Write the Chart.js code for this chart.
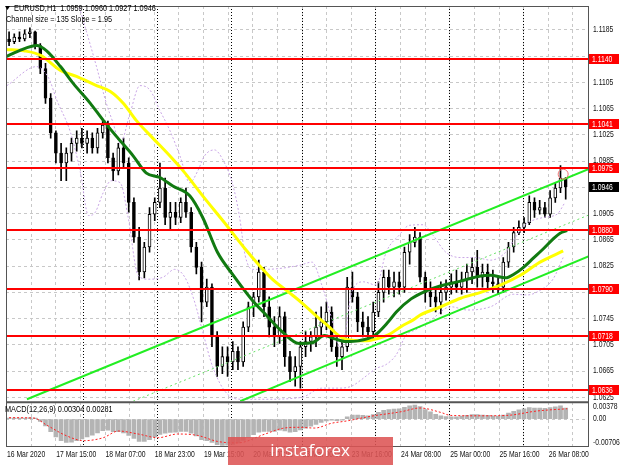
<!DOCTYPE html>
<html lang="en">
<head>
<meta charset="UTF-8">
<title>EURUSD H1</title>
<script src="https://cdn.jsdelivr.net/npm/chart.js"></script>
<style>
    body { margin: 0; padding: 0; background: #fff; }
    .chart-box { width: 620px; height: 465px; position: relative; }
</style>
</head>
<body>
<div class="chart-box"><canvas id="eurusd"></canvas></div>
<script>
// candles, one every ~1.7 h (hour 0 = first bar on screen)
const FIRST_BAR = 1.0;
const BAR_STEP = 1.69;

const opens = [
    1.1171, 1.1167, 1.1174, 1.1171, 1.1179, 1.1182, 1.1161, 1.1126, 1.1081, 1.1028,
    1.0997, 1.0982, 1.0997, 1.1012, 1.1020, 1.1012, 1.1020, 1.1005, 1.1028, 1.1040,
    1.0990, 1.0970, 1.1005, 1.0982, 1.0922, 1.0869, 1.0816, 1.0854, 1.0904, 1.0922,
    1.0944, 1.0899, 1.0907, 1.0899, 1.0922, 1.0907, 1.0854, 1.0823, 1.0770, 1.0793,
    1.0717, 1.0672, 1.0687, 1.0679, 1.0695, 1.0679, 1.0732, 1.0763, 1.0778, 1.0816,
    1.0763, 1.0732, 1.0717, 1.0748, 1.0687, 1.0664, 1.0672, 1.0702, 1.0710, 1.0717,
    1.0732, 1.0740, 1.0755, 1.0702, 1.0687, 1.0702, 1.0793, 1.0778, 1.0740, 1.0732,
    1.0725, 1.0755, 1.0785, 1.0808, 1.0793, 1.0801, 1.0793, 1.0846, 1.0861, 1.0869,
    1.0808, 1.0785, 1.0778, 1.0770, 1.0785, 1.0793, 1.0801, 1.0793, 1.0804, 1.0816,
    1.0823, 1.0808, 1.0816, 1.0801, 1.0798, 1.0793, 1.0831, 1.0854, 1.0876, 1.0884,
    1.0891, 1.0922, 1.0910, 1.0914, 1.0904, 1.0929, 1.0944, 1.0959
];
const highs = [
    1.1182, 1.1179, 1.1182, 1.1185, 1.1188, 1.1183, 1.1164, 1.1134, 1.1088, 1.1031,
    1.1012, 1.1005, 1.1020, 1.1031, 1.1035, 1.1031, 1.1028, 1.1035, 1.1046, 1.1046,
    1.0997, 1.1012, 1.1020, 1.0990, 1.0929, 1.0884, 1.0861, 1.0914, 1.0929, 1.0982,
    1.0959, 1.0922, 1.0922, 1.0929, 1.0944, 1.0914, 1.0861, 1.0831, 1.0805, 1.0798,
    1.0725, 1.0702, 1.0702, 1.0710, 1.0702, 1.0740, 1.0770, 1.0785, 1.0834, 1.0823,
    1.0778, 1.0748, 1.0763, 1.0755, 1.0695, 1.0687, 1.0710, 1.0725, 1.0725, 1.0755,
    1.0763, 1.0770, 1.0763, 1.0717, 1.0710, 1.0808, 1.0816, 1.0785, 1.0755, 1.0748,
    1.0770, 1.0801, 1.0819, 1.0819, 1.0816, 1.0816, 1.0854, 1.0873, 1.0884, 1.0876,
    1.0816, 1.0801, 1.0793, 1.0801, 1.0804, 1.0813, 1.0819, 1.0816, 1.0828, 1.0838,
    1.0849, 1.0828, 1.0828, 1.0819, 1.0808, 1.0838, 1.0861, 1.0884, 1.0894, 1.0899,
    1.0932, 1.0929, 1.0925, 1.0922, 1.0940, 1.0952, 1.0978, 1.0960
];
const lows = [
    1.1161, 1.1164, 1.1167, 1.1168, 1.1173, 1.1156, 1.1118, 1.1073, 1.1020, 1.0982,
    1.0955, 1.0955, 1.0985, 1.1000, 1.1005, 1.0997, 1.0997, 1.0997, 1.1020, 1.0982,
    1.0955, 1.0964, 1.0975, 1.0907, 1.0861, 1.0804, 1.0807, 1.0846, 1.0894, 1.0914,
    1.0888, 1.0879, 1.0888, 1.0891, 1.0899, 1.0846, 1.0813, 1.0740, 1.0763, 1.0702,
    1.0657, 1.0661, 1.0657, 1.0667, 1.0667, 1.0672, 1.0725, 1.0748, 1.0770, 1.0748,
    1.0717, 1.0702, 1.0707, 1.0672, 1.0649, 1.0642, 1.0639, 1.0687, 1.0695, 1.0702,
    1.0717, 1.0728, 1.0695, 1.0672, 1.0667, 1.0695, 1.0770, 1.0725, 1.0717, 1.0713,
    1.0713, 1.0748, 1.0770, 1.0782, 1.0778, 1.0782, 1.0785, 1.0828, 1.0854, 1.0801,
    1.0770, 1.0763, 1.0755, 1.0752, 1.0773, 1.0782, 1.0785, 1.0782, 1.0785, 1.0798,
    1.0793, 1.0793, 1.0789, 1.0785, 1.0782, 1.0785, 1.0823, 1.0846, 1.0873, 1.0876,
    1.0888, 1.0899, 1.0904, 1.0899, 1.0899, 1.0922, 1.0937, 1.0927
];
const closes = [
    1.1167, 1.1174, 1.1171, 1.1179, 1.1182, 1.1161, 1.1126, 1.1081, 1.1028, 1.0997,
    1.0982, 1.0997, 1.1012, 1.1020, 1.1012, 1.1020, 1.1005, 1.1028, 1.1040, 1.0990,
    1.0970, 1.1005, 1.0982, 1.0922, 1.0869, 1.0816, 1.0854, 1.0904, 1.0922, 1.0944,
    1.0899, 1.0907, 1.0899, 1.0922, 1.0907, 1.0854, 1.0823, 1.0770, 1.0793, 1.0717,
    1.0672, 1.0687, 1.0679, 1.0695, 1.0679, 1.0732, 1.0763, 1.0778, 1.0816, 1.0763,
    1.0732, 1.0717, 1.0748, 1.0687, 1.0664, 1.0672, 1.0702, 1.0710, 1.0717, 1.0732,
    1.0740, 1.0755, 1.0702, 1.0687, 1.0702, 1.0793, 1.0778, 1.0740, 1.0732, 1.0725,
    1.0755, 1.0785, 1.0808, 1.0793, 1.0801, 1.0793, 1.0846, 1.0861, 1.0869, 1.0808,
    1.0785, 1.0778, 1.0770, 1.0785, 1.0793, 1.0801, 1.0793, 1.0804, 1.0816, 1.0823,
    1.0808, 1.0816, 1.0801, 1.0798, 1.0793, 1.0831, 1.0854, 1.0876, 1.0884, 1.0891,
    1.0922, 1.0910, 1.0914, 1.0904, 1.0929, 1.0944, 1.0959, 1.0946
];

// MACD histogram, one value per candle
const macdHist = [
    0.0003, 0.0003, 0.0003, 0.0003, 0.0004, 0.0003, -0.0006, -0.0018, -0.0034, -0.0048,
    -0.0058, -0.0063, -0.0062, -0.0058, -0.0053, -0.0048, -0.0043, -0.0037, -0.0031, -0.0030,
    -0.0034, -0.0034, -0.0037, -0.0044, -0.0052, -0.0060, -0.0060, -0.0055, -0.0048, -0.0041,
    -0.0038, -0.0036, -0.0035, -0.0033, -0.0033, -0.0038, -0.0045, -0.0055, -0.0058, -0.0063,
    -0.0069, -0.0071, -0.0070, -0.0068, -0.0064, -0.0057, -0.0049, -0.0042, -0.0035, -0.0033,
    -0.0033, -0.0033, -0.0030, -0.0032, -0.0035, -0.0034, -0.0029, -0.0024, -0.0019, -0.0014,
    -0.0009, -0.0005, -0.0003, -0.0004, -0.0003, 0.0006, 0.0011, 0.0011, 0.0010, 0.0009,
    0.0012, 0.0018, 0.0024, 0.0026, 0.0027, 0.0028, 0.0032, 0.0036, 0.0038, 0.0034,
    0.0026, 0.0020, 0.0013, 0.0009, 0.0007, 0.0006, 0.0006, 0.0008, 0.0010, 0.0012,
    0.0012, 0.0011, 0.0010, 0.0009, 0.0008, 0.0011, 0.0016, 0.0021, 0.0025, 0.0028,
    0.0031, 0.0030, 0.0030, 0.0029, 0.0031, 0.0033, 0.0036, 0.0030
];
// MACD signal line: [hour, value]
const macdSignal = [
    [1.0, 0.0004], [9.0, 0.0003], [13.2, -0.0016], [19.7, -0.0045], [25.2, -0.0058],
    [31.6, -0.0050], [36.5, -0.0032], [42.9, -0.0040], [49.4, -0.0050], [55.8, -0.0040],
    [62.3, -0.0044], [68.7, -0.0060], [75.2, -0.0064], [84.2, -0.0040], [89.7, -0.0025],
    [95.2, -0.0022], [100.3, -0.0024], [105.8, -0.0011], [110.6, -0.0005], [118.7, 0.0008],
    [128.4, 0.0020], [134.5, 0.0030], [141.3, 0.0018], [144.5, 0.0010], [154.2, 0.0009],
    [162.6, 0.0010], [172.6, 0.0022], [182.3, 0.0028]
];

// moving averages: [hour, price]
const maGreen = [
    [0, 1.1144], [4.2, 1.1153], [10.0, 1.1161], [13.2, 1.1153], [17.7, 1.1129], [21.9, 1.1103],
    [27.4, 1.1073], [31.6, 1.1047], [35.8, 1.1023], [41.3, 1.0993], [45.5, 1.0967], [50.0, 1.0960],
    [54.2, 1.0947], [59.7, 1.0932], [63.9, 1.0899], [68.7, 1.0846], [73.5, 1.0813], [80.0, 1.0773],
    [84.2, 1.0752], [89.7, 1.0725], [95.2, 1.0707], [99.4, 1.0708], [103.5, 1.0719], [106.8, 1.0714],
    [110.6, 1.0710], [114.5, 1.0711], [119.7, 1.0719], [124.2, 1.0740], [126.8, 1.0755], [131.6, 1.0775],
    [136.5, 1.0787], [141.3, 1.0795], [147.7, 1.0802], [154.2, 1.0810], [157.4, 1.0811], [162.3, 1.0807],
    [165.5, 1.0814], [168.1, 1.0823], [171.3, 1.0837], [174.5, 1.0851], [177.7, 1.0866], [180.0, 1.0875],
    [182.3, 1.0879]
];
const maYellow = [
    [0, 1.1155], [5.8, 1.1153], [11.3, 1.1146], [17.7, 1.1123], [22.9, 1.1114], [29.4, 1.1100],
    [33.9, 1.1091], [38.1, 1.1073], [42.3, 1.1047], [47.7, 1.1020], [53.2, 1.0993], [58.1, 1.0967],
    [63.9, 1.0932], [71.0, 1.0891], [77.7, 1.0851], [82.3, 1.0826], [86.5, 1.0805], [91.9, 1.0785],
    [96.1, 1.0769], [100.3, 1.0751], [104.8, 1.0733], [108.1, 1.0719], [110.6, 1.0713], [117.1, 1.0711],
    [120.3, 1.0714], [124.2, 1.0720], [128.4, 1.0733], [132.3, 1.0743], [134.8, 1.0751], [141.3, 1.0763],
    [147.7, 1.0776], [154.2, 1.0785], [160.6, 1.0796], [167.1, 1.0811], [173.5, 1.0831], [181.0, 1.0848]
];

// bands (purple dotted): [hour, price]
const bandUpper = [
    [23.5, 1.1225], [26.1, 1.1183], [29.4, 1.1129], [32.6, 1.1073], [34.8, 1.1043], [37.1, 1.1012],
    [40.3, 1.1058], [43.5, 1.1100], [46.8, 1.1093], [50.0, 1.1062], [53.2, 1.1032], [56.5, 1.0993],
    [59.7, 1.0952], [62.3, 1.0970], [64.5, 1.0993], [67.7, 1.1002], [71.0, 1.0982], [73.5, 1.0952],
    [75.8, 1.0902], [77.7, 1.0841], [80.0, 1.0820], [84.2, 1.0820], [95.2, 1.0826], [99.4, 1.0831],
    [102.6, 1.0796], [105.8, 1.0745], [108.4, 1.0702], [110.0, 1.0717], [112.3, 1.0785], [116.1, 1.0801],
    [120.3, 1.0796], [123.5, 1.0846], [127.7, 1.0872], [131.0, 1.0887], [135.5, 1.0888], [138.7, 1.0872],
    [142.9, 1.0846], [147.7, 1.0838], [152.6, 1.0838], [157.4, 1.0834], [162.3, 1.0846], [165.5, 1.0869],
    [168.7, 1.0888], [174.5, 1.0899], [179.0, 1.0904], [181.6, 1.0922]
];
const bandLower = [
    [0.3, 1.1100], [10.0, 1.1129], [13.9, 1.1111], [16.5, 1.1078], [21.0, 1.1028], [24.2, 1.0967],
    [26.8, 1.0902], [29.0, 1.0907], [31.6, 1.0937], [34.2, 1.0955], [37.1, 1.0952], [39.7, 1.0899],
    [42.9, 1.0811], [46.1, 1.0805], [51.0, 1.0808], [54.8, 1.0820], [58.1, 1.0808], [61.3, 1.0770],
    [63.9, 1.0725], [67.1, 1.0672], [71.9, 1.0630], [76.8, 1.0622], [83.2, 1.0622], [96.1, 1.0625],
    [102.6, 1.0639], [108.1, 1.0639], [112.3, 1.0642], [115.5, 1.0652], [120.3, 1.0669], [123.5, 1.0675],
    [126.8, 1.0690], [130.0, 1.0720], [133.2, 1.0728], [138.1, 1.0743], [144.5, 1.0763], [150.0, 1.0758],
    [157.4, 1.0763], [164.8, 1.0782], [169.4, 1.0781], [173.5, 1.0788], [177.7, 1.0805], [181.0, 1.0838]
];

// regression channel ends: [hour, price]
const channelTop = [[6.8, 1.0622], [189.4, 1.0973]];
const channelMid = [[41.3, 1.0619], [189.4, 1.0903]];
const channelBottom = [[76.1, 1.0619], [189.4, 1.0840]];

// small circled top near the last bars
const markedTop = [[181.0, 1.0965]];

const levels = [1.1140, 1.1041, 1.0975, 1.0880, 1.0790, 1.0718, 1.0636];
const lastPrice = 1.0946;

const priceTicks = [1.0625, 1.0665, 1.0705, 1.0745, 1.0785, 1.0825, 1.0865, 1.0905,
                    1.0945, 1.0985, 1.1025, 1.1065, 1.1105, 1.1145, 1.1185];
const macdTicks = [-0.00706, 0, 0.00378];
const macdTickLabels = ['-0.00706', '0.00', '0.00378'];
const timeTicks = [0, 16, 32, 48, 64, 80, 96, 112, 128, 144, 160, 176];
const timeLabels = ['16 Mar 2020', '17 Mar 15:00', '18 Mar 07:00', '18 Mar 23:00', '19 Mar 15:00',
                    '20 Mar 07:00', '23 Mar 00:00', '23 Mar 16:00', '24 Mar 08:00', '25 Mar 00:00',
                    '25 Mar 16:00', '26 Mar 08:00'];
const daySeparators = [25, 49, 73, 96, 120, 144, 168];

const FONT = 'Liberation Sans, Arial, sans-serif';

// build datasets
const barHours = opens.map((o, i) => +(FIRST_BAR + i * BAR_STEP).toFixed(2));
const toPoints = arr => arr.map(p => ({ x: p[0], y: p[1] }));

function lineSet(points, color, width, dash, order, axis) {
    return {
        type: 'line',
        data: toPoints(points),
        borderColor: color,
        borderWidth: width,
        borderDash: dash,
        pointRadius: 0,
        fill: false,
        cubicInterpolationMode: 'monotone',
        yAxisID: axis || 'y',
        order: order
    };
}

const datasets = [
    {
        label: 'wicks',
        data: barHours.map((h, i) => ({ x: h, y: [lows[i], highs[i]] })),
        backgroundColor: '#000',
        barThickness: 1,
        grouped: false,
        yAxisID: 'y',
        order: 9
    },
    {
        label: 'bodies',
        data: barHours.map((h, i) => ({ x: h, y: [opens[i], closes[i]] })),
        backgroundColor: opens.map((o, i) => closes[i] >= o ? '#ffffff' : '#000000'),
        borderColor: '#000',
        borderWidth: 1,
        borderSkipped: false,
        barThickness: 3,
        minBarLength: 1,
        grouped: false,
        yAxisID: 'y',
        order: 8
    },
    {
        label: 'macd',
        data: barHours.map((h, i) => ({ x: h, y: macdHist[i] })),
        backgroundColor: '#b4b4b4',
        barThickness: 4,
        grouped: false,
        yAxisID: 'ym',
        order: 8
    },
    lineSet(bandUpper, '#c9a6e6', 1, [2, 2], 7),
    lineSet(bandLower, '#c9a6e6', 1, [2, 2], 7),
    lineSet(channelMid, '#66e066', 1, [2, 3], 6),
    lineSet(channelTop, '#22ee22', 2, [], 6),
    lineSet(channelBottom, '#22ee22', 2, [], 6),
    lineSet(maYellow, '#ffff00', 3, [], 5),
    lineSet(maGreen, '#117a11', 3, [], 4),
    lineSet(macdSignal, '#ff2020', 1, [2, 2], 3, 'ym'),
    {
        type: 'line',
        data: toPoints(markedTop),
        showLine: false,
        pointRadius: 5,
        pointBorderWidth: 1,
        pointBorderColor: '#f07070',
        pointBackgroundColor: 'rgba(0,0,0,0)',
        yAxisID: 'y',
        order: 2
    }
];

// MT4 text is narrower than Arial at the same height
function narrowText(ctx, text, x, y, squeeze) {
    ctx.save();
    ctx.translate(x, y);
    ctx.scale(squeeze, 1);
    ctx.fillText(text, 0, 0);
    ctx.restore();
}

// everything MT4 draws around the data: grid, separators, levels, frame, labels
const terminalDecor = {
    id: 'terminalDecor',
    beforeDatasetsDraw(chart) {
        const { ctx, chartArea: a, scales: { x } } = chart;
        ctx.save();
        ctx.lineWidth = 1;
        ctx.strokeStyle = '#c8c8c8';
        ctx.setLineDash([3, 3]);
        for (let h = 8; h < x.max; h += 8) {
            const px = Math.round(x.getPixelForValue(h)) + 0.5;
            ctx.beginPath(); ctx.moveTo(px, a.top); ctx.lineTo(px, a.bottom); ctx.stroke();
        }
        ctx.strokeStyle = '#000';
        ctx.setLineDash([1, 2]);
        daySeparators.forEach(h => {
            const px = Math.round(x.getPixelForValue(h)) + 0.5;
            ctx.beginPath(); ctx.moveTo(px, a.top); ctx.lineTo(px, a.bottom); ctx.stroke();
        });
        ctx.restore();
    },
    afterDatasetsDraw(chart) {
        const { ctx, chartArea: a, scales: { y } } = chart;
        ctx.save();
        ctx.strokeStyle = '#ff0000';
        ctx.lineWidth = 2;
        levels.forEach(v => {
            const py = Math.round(y.getPixelForValue(v));
            ctx.beginPath(); ctx.moveTo(a.left, py); ctx.lineTo(a.right, py); ctx.stroke();
        });
        ctx.restore();
    },
    afterDraw(chart) {
        const { ctx, chartArea: a, scales: { x, y, ym } } = chart;
        ctx.save();
        // frame and pane split
        ctx.strokeStyle = '#555';
        ctx.lineWidth = 1;
        ctx.strokeRect(a.left + 0.5, a.top + 0.5, a.right - a.left - 1, a.bottom - a.top - 1);
        ctx.lineWidth = 2;
        ctx.beginPath(); ctx.moveTo(a.left, y.bottom + 1); ctx.lineTo(a.right, y.bottom + 1); ctx.stroke();

        // axis labels (skip the ones hidden behind a price tag)
        ctx.font = '8.5px ' + FONT;
        ctx.fillStyle = '#111';
        ctx.textBaseline = 'middle';
        ctx.textAlign = 'left';
        const tagYs = levels.concat([lastPrice]).map(v => y.getPixelForValue(v));
        priceTicks.forEach(v => {
            const py = y.getPixelForValue(v);
            if (tagYs.some(t => Math.abs(t - py) < 4.5)) return;
            narrowText(ctx, v.toFixed(4), a.right + 4, py, 0.8);
        });
        macdTicks.forEach((v, i) => {
            const py = Math.min(Math.max(ym.getPixelForValue(v), ym.top + 5), ym.bottom - 4);
            narrowText(ctx, macdTickLabels[i], a.right + 4, py, 0.8);
        });
        timeTicks.forEach((t, i) => narrowText(ctx, timeLabels[i], x.getPixelForValue(t) + 1, a.bottom + 8, 0.8));

        // price tags on the axis
        const tag = (v, bg) => {
            const py = Math.round(y.getPixelForValue(v));
            ctx.fillStyle = bg;
            ctx.fillRect(a.right, py - 5, 30, 10);
            ctx.fillStyle = '#fff';
            narrowText(ctx, v.toFixed(4), a.right + 3, py + 0.5, 0.8);
        };
        levels.forEach(v => tag(v, '#ff0000'));
        tag(lastPrice, '#000000');

        // header texts
        ctx.fillStyle = '#000';
        ctx.beginPath();
        ctx.moveTo(5, 6); ctx.lineTo(10, 6); ctx.lineTo(7.5, 10); ctx.closePath(); ctx.fill();
        narrowText(ctx, 'EURUSD,H1  1.0959 1.0960 1.0927 1.0946', 14, 8.5, 0.86);
        narrowText(ctx, 'Channel size = 135 Slope = 1.95', 6, 19.5, 0.86);
        narrowText(ctx, 'MACD(12,26,9) 0.00304 0.00281', 5, y.bottom + 8, 0.86);

        // watermark
        ctx.fillStyle = 'rgba(221, 84, 84, 0.88)';
        ctx.fillRect(228, 437, 165, 28);
        ctx.fillStyle = '#fff';
        ctx.font = '17px "Open Sans", sans-serif';
        ctx.textAlign = 'center';
        ctx.fillText('instaforex', 310, 451);
        ctx.restore();
    }
};

const ctx = document.getElementById('eurusd').getContext('2d');
new Chart(ctx, {
    type: 'bar',
    data: { datasets: datasets },
    options: {
        responsive: true,
        maintainAspectRatio: false,
        animation: false,
        layout: { padding: { left: 2, top: 2, right: 0, bottom: 0 } },
        plugins: { legend: { display: false }, tooltip: { enabled: false } },
        scales: {
            x: {
                type: 'linear',
                min: 0,
                max: 189.4,
                offset: false,
                grid: { display: false, offset: false },
                border: { display: false },
                ticks: { display: false },
                afterFit: s => { s.height = 18; }
            },
            y: {
                position: 'right',
                stack: 'panes',
                stackWeight: 398,
                min: 1.06189,
                max: 1.12213,
                grid: { color: '#c8c8c8', drawTicks: false },
                border: { display: false, dash: [3, 3] },
                afterBuildTicks: s => { s.ticks = priceTicks.map(v => ({ value: v })); },
                afterFit: s => { s.width = 31; },
                ticks: { display: false }
            },
            ym: {
                position: 'right',
                stack: 'panes',
                stackWeight: 46,
                min: -0.0075,
                max: 0.0048,
                grid: { color: c => c.tick && c.tick.value === 0 ? '#c8c8c8' : 'rgba(0,0,0,0)', drawTicks: false },
                border: { display: false, dash: [3, 3] },
                afterBuildTicks: s => { s.ticks = macdTicks.map(v => ({ value: v })); },
                afterFit: s => { s.width = 31; },
                ticks: { display: false }
            }
        }
    },
    plugins: [terminalDecor]
});
</script>
</body>
</html>
